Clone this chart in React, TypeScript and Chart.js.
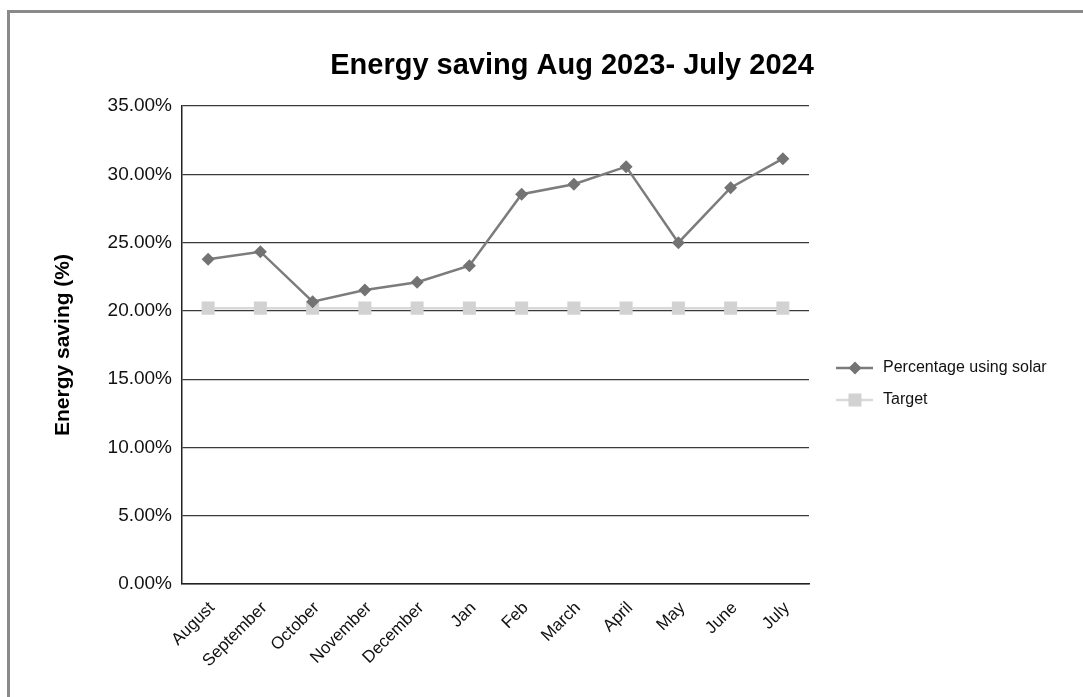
import { useEffect, useRef } from 'react';
import { Chart, registerables } from 'chart.js';

Chart.register(...registerables);

const months = ['August', 'September', 'October', 'November', 'December', 'Jan', 'Feb', 'March', 'April', 'May', 'June', 'July'];
const solarSavings = [0.2378, 0.2433, 0.2067, 0.2153, 0.2209, 0.2331, 0.2854, 0.2927, 0.3056, 0.2499, 0.2902, 0.3114];
const targetSavings = [0.202, 0.202, 0.202, 0.202, 0.202, 0.202, 0.202, 0.202, 0.202, 0.202, 0.202, 0.202];
const seriesNames = ['Percentage using solar', 'Target'];
const chartTitle = 'Energy saving Aug 2023- July 2024';
const yAxisTitle = 'Energy saving (%)';

const FONT = "'Liberation Sans', Arial, Helvetica, sans-serif";

function drawMarker(ctx: CanvasRenderingContext2D, style: string, x: number, y: number, r: number, color: string) {
  ctx.fillStyle = color;
  ctx.beginPath();
  if (style === 'rectRot') {
    ctx.moveTo(x - r, y);
    ctx.lineTo(x, y - r);
    ctx.lineTo(x + r, y);
    ctx.lineTo(x, y + r);
    ctx.closePath();
  } else {
    const s = r * Math.SQRT1_2;
    ctx.rect(x - s, y - s, 2 * s, 2 * s);
  }
  ctx.fill();
}

const sideLegend = {
  id: 'sideLegend',
  afterDraw(chart: any) {
    const { ctx, chartArea } = chart;
    const x0 = chartArea.right + 27;
    const rows = [chartArea.top + 262, chartArea.top + 294];
    chart.data.datasets.forEach((ds: any, i: number) => {
      const y = rows[i];
      ctx.save();
      ctx.strokeStyle = ds.borderColor;
      ctx.lineWidth = ds.borderWidth;
      ctx.beginPath();
      ctx.moveTo(x0, y);
      ctx.lineTo(x0 + 37, y);
      ctx.stroke();
      drawMarker(ctx, ds.pointStyle, x0 + 19, y, ds.pointRadius, ds.pointBackgroundColor);
      ctx.fillStyle = '#111';
      ctx.font = `16px ${FONT}`;
      ctx.textBaseline = 'middle';
      ctx.textAlign = 'left';
      ctx.fillText(ds.label, x0 + 47, y);
      ctx.restore();
    });
  },
};

export default function App() {
  const canvasRef = useRef<HTMLCanvasElement | null>(null);

  useEffect(() => {
    if (!canvasRef.current) return;
    const chart = new Chart(canvasRef.current, {
      type: 'line',
      data: {
        labels: months,
        datasets: [
          {
            label: seriesNames[0],
            data: solarSavings,
            borderColor: '#7c7c7c',
            borderWidth: 2.5,
            pointStyle: 'rectRot',
            pointRadius: 6.5,
            pointHoverRadius: 6.5,
            pointBackgroundColor: '#737373',
            pointBorderWidth: 0,
            tension: 0,
          },
          {
            label: seriesNames[1],
            data: targetSavings,
            borderColor: '#d9d9d9',
            borderWidth: 2.5,
            pointStyle: 'rect',
            pointRadius: 9.2,
            pointHoverRadius: 9.2,
            pointBackgroundColor: '#d2d2d2',
            pointBorderWidth: 0,
            tension: 0,
          },
        ],
      },
      plugins: [sideLegend],
      options: {
        responsive: false,
        animation: false,
        layout: { padding: { left: 62, right: 1, top: 0, bottom: 0 } },
        plugins: {
          legend: { display: false },
          tooltip: { enabled: false },
          title: {
            display: true,
            text: chartTitle,
            color: '#000',
            font: { family: FONT, size: 29, weight: 'bold', lineHeight: 1.2 },
            padding: { top: 49, bottom: 22.2 },
          },
        },
        scales: {
          x: {
            offset: true,
            grid: { display: false, drawTicks: false },
            border: { display: true, color: '#222', width: 1.5 },
            ticks: {
              color: '#111',
              font: { family: FONT, size: 17 },
              minRotation: 45,
              maxRotation: 45,
              autoSkip: false,
              padding: 14,
              labelOffset: 4,
            },
            afterFit: (scale: any) => {
              scale.height = 113;
            },
          },
          y: {
            min: 0,
            max: 0.35,
            grid: { color: '#3a3a3a', lineWidth: 1.2, drawTicks: false },
            border: { display: true, color: '#222', width: 1.5 },
            ticks: {
              stepSize: 0.05,
              color: '#111',
              padding: 10,
              font: { family: FONT, size: 19 },
              callback: (v: any) => (Number(v) * 100).toFixed(2) + '%',
            },
            title: {
              display: true,
              text: yAxisTitle,
              color: '#000',
              font: { family: FONT, size: 21, weight: 'bold', lineHeight: 1.2 },
              padding: { top: -11, bottom: 0 },
            },
            afterFit: (scale: any) => {
              scale.width = 120;
            },
          },
          legendSpace: {
            type: 'linear',
            position: 'right',
            display: true,
            grid: { display: false, drawTicks: false },
            border: { display: false },
            ticks: { display: false },
            afterFit: (scale: any) => {
              scale.width = 273;
            },
          },
        },
      },
    });
    return () => chart.destroy();
  }, []);

  return (
    <div style={{ position: 'absolute', left: 0, top: 0, width: 1083, height: 697, overflow: 'hidden', background: '#fff' }}>
      <div
        style={{
          position: 'absolute',
          left: 7,
          top: 10,
          width: 1200,
          height: 800,
          borderTop: '3px solid #8a8a8a',
          borderLeft: '3px solid #8a8a8a',
        }}
      />
      <canvas ref={canvasRef} width={1083} height={697} style={{ position: 'absolute', left: 0, top: 0 }} />
    </div>
  );
}
